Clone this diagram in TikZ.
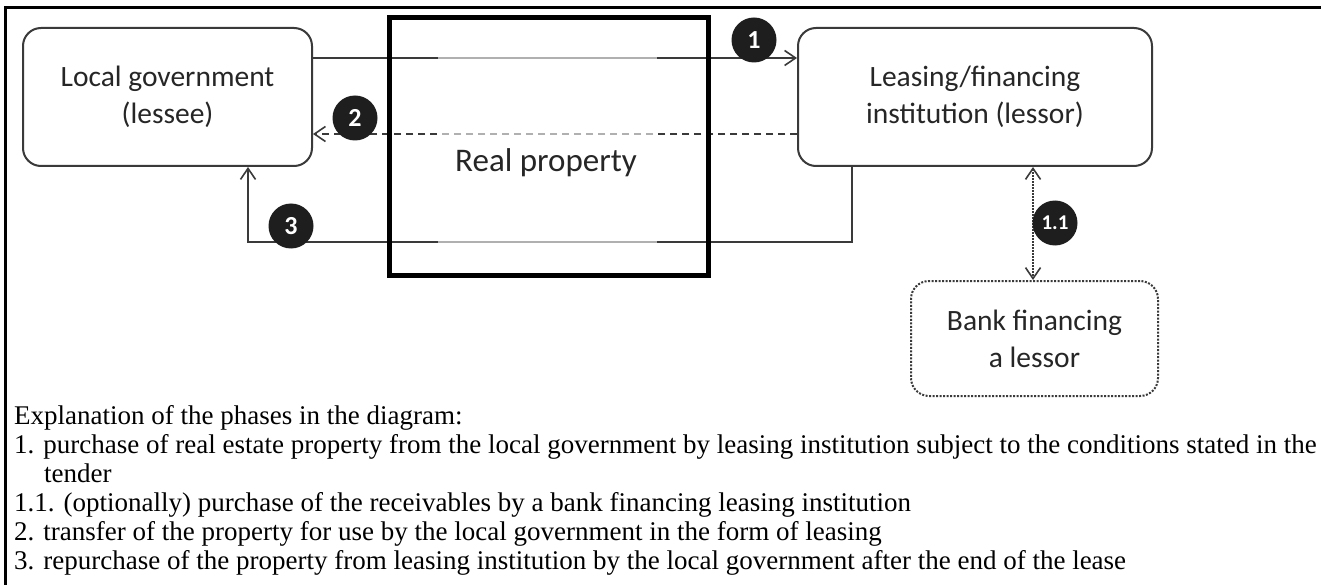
\documentclass[tikz,border=0pt]{standalone}
\usepackage{fontspec}
\setmainfont{Liberation Serif}
\newfontfamily\calfont{Carlito}
\usetikzlibrary{arrows.meta}
\definecolor{ink}{HTML}{3A3A3A}
\definecolor{badgefill}{HTML}{1E1E1E}
\begin{document}
\begin{tikzpicture}[x=1pt,y=-1pt,
 box/.style={draw=ink,line width=2pt,rounded corners=18pt,align=center,font=\calfont\fontsize{29.5}{37}\selectfont,text=black!85,inner sep=0pt},
 conn/.style={draw=ink,line width=1.8pt},
 barb/.tip={Straight Barb[length=11pt,width=15pt,line width=1.6pt]},
 badge/.style={circle,fill=badgefill,text=white,minimum size=45pt,inner sep=0pt,font=\calfont\bfseries\fontsize{26}{26}\selectfont},
 expl/.style={anchor=base west,inner sep=0pt,font=\fontsize{27}{29}\selectfont}]
\useasboundingbox (0,0) rectangle (1321,585);
\fill[white] (0,0) rectangle (1321,585);
\draw[line width=3pt] (5,585) -- (5,8) -- (1321,8);
% boxes
\node[box,minimum width=289pt,minimum height=138pt] (lg) at (167.5,97) {Local government\\(lessee)};
\node[box,minimum width=354pt,minimum height=138pt] (ls) at (975,97) {Leasing/financing\\institution (lessor)};
\node[box,dash pattern=on 2pt off 1.5pt,minimum width=247pt,minimum height=115pt] (bk) at (1034.5,338.5) {Bank financing\\a lessor};
% connectors
\draw[conn,-barb] (lg.east |- 0,58) -- (ls.west |- 0,58);
\draw[conn,-barb,dash pattern=on 7pt off 5pt] (ls.west |- 0,134) -- (lg.east |- 0,134);
\draw[conn,-barb] (ls.south -| 852,0) -- ++(0,75) -| (lg.south -| 248,0);
\draw[conn,barb-barb,dash pattern=on 1.5pt off 1.5pt] (ls.south -| 1033,0) -- (bk.north -| 1033,0);
% real property
\node[fill=white,opacity=0.6,minimum width=219pt,minimum height=232pt,inner sep=0pt] (veil) at (547.5,146) {};
\node[draw=black,line width=5pt,minimum width=319pt,minimum height=258pt,inner sep=0pt] (rp) at (549,146.5) {};
\node[font=\calfont\fontsize{33}{33}\selectfont,text=black!85,inner sep=0pt] (rpl) at (546,163) {Real property};
% badges
\node[badge] (n1) at (754,40) {1};
\node[badge] (n2) at (355,118) {2};
\node[badge] (n3) at (291,226) {3};
\node[badge,font=\calfont\bfseries\fontsize{21}{21}\selectfont] (n11) at (1055,223) {1.1};
% explanation
\node[expl] (t0) at (14,424) {Explanation of the phases in the diagram:};
\node[expl] (t1) at (14,453) {1. purchase of real estate property from the local government by leasing institution subject to the conditions stated in the};
\node[expl] (t2) at (44,482) {tender};
\node[expl] (t3) at (14,511) {1.1. (optionally) purchase of the receivables by a bank financing leasing institution};
\node[expl] (t4) at (14,540) {2. transfer of the property for use by the local government in the form of leasing};
\node[expl] (t5) at (14,569) {3. repurchase of the property from leasing institution by the local government after the end of the lease};
\end{tikzpicture}
\end{document}
